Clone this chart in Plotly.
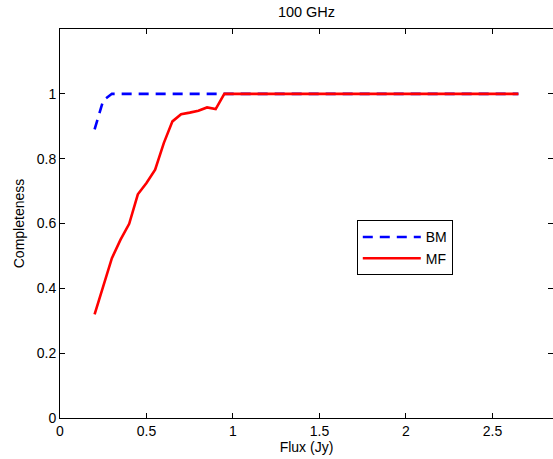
import plotly.graph_objects as go

bm_flux = [0.2, 0.25, 0.3, 2.65]
bm_comp = [0.89, 0.98, 1.0, 1.0]

mf_flux = [0.2, 0.25, 0.3, 0.35, 0.4, 0.45, 0.5, 0.55, 0.6, 0.65, 0.7, 0.75, 0.8, 0.85, 0.9, 0.95, 2.65]
mf_comp = [0.32, 0.405, 0.493, 0.55, 0.599, 0.69, 0.725, 0.766, 0.848, 0.915, 0.937, 0.942, 0.948, 0.958, 0.953, 1.0, 1.0]

x_ticks = [0, 0.5, 1, 1.5, 2, 2.5]
y_ticks = [0, 0.2, 0.4, 0.6, 0.8, 1]

FAM = "Liberation Sans, Arial, sans-serif"
font = dict(family=FAM, size=14, color="black")

fig = go.Figure()
fig.add_trace(go.Scatter(x=bm_flux, y=bm_comp, mode="lines", name="BM",
                         line=dict(color="#0000ff", width=2.6, dash="10px,7px")))
fig.add_trace(go.Scatter(x=mf_flux, y=mf_comp, mode="lines", name="MF",
                         line=dict(color="#ff0000", width=2.6)))
# invisible trace on secondary y axis for right-side ticks
fig.add_trace(go.Scatter(x=[0], y=[0], yaxis="y2", mode="markers",
                         marker=dict(opacity=0), showlegend=False, hoverinfo="skip"))

tick_common = dict(ticks="inside", ticklen=5, tickcolor="black", tickwidth=1,
                   showgrid=False, zeroline=False, tickfont=font)

fig.update_layout(
    width=553, height=459,
    margin=dict(l=60, r=0, t=29, b=41),
    paper_bgcolor="white", plot_bgcolor="white",
    font=font,
    title=dict(text="100 GHz", xref="paper", x=0.5, xanchor="center",
               y=0.973, yanchor="middle", font=dict(family=FAM, size=14.5)),
    xaxis=dict(range=[0, 2.85], tickvals=x_ticks, showline=True, linecolor="black",
               linewidth=1, mirror="ticks",
               title=dict(text="Flux (Jy)", standoff=2, font=font), **tick_common),
    yaxis=dict(range=[0, 1.2], tickvals=y_ticks, showline=True, linecolor="black",
               linewidth=1, mirror=False,
               title=dict(text="Completeness", standoff=8, font=font), **tick_common),
    yaxis2=dict(range=[0, 1.2], tickvals=y_ticks, overlaying="y", side="right",
                showline=False, showticklabels=False, **tick_common),
    legend=dict(x=0.602, y=0.508, xanchor="left", yanchor="top",
                bordercolor="black", borderwidth=1, bgcolor="white",
                font=dict(family=FAM, size=14),
                itemwidth=58, tracegroupgap=0),
    showlegend=True,
)

fig.write_html("out.html")
